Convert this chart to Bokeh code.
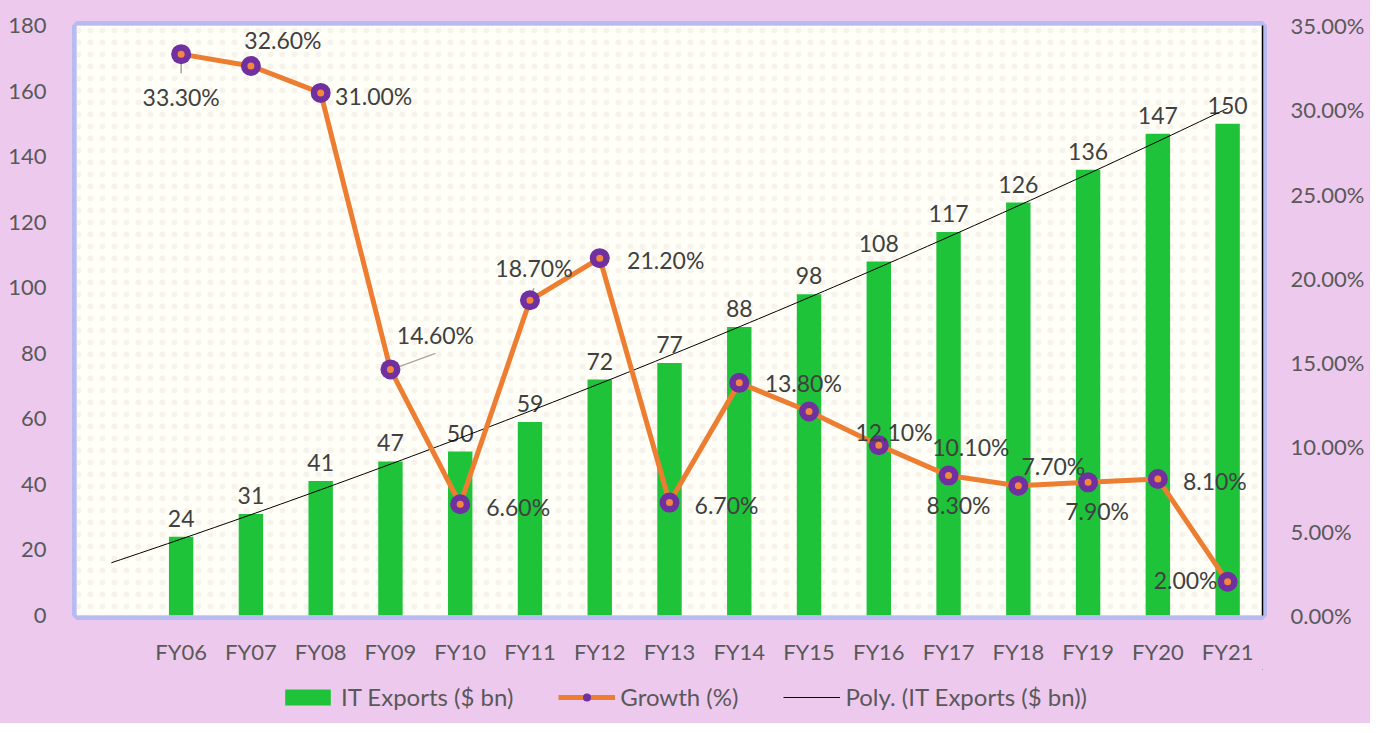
import numpy as np
from bokeh.plotting import figure
from bokeh.layouts import column
from bokeh.models import (ColumnDataSource, Range1d, LinearAxis, FixedTicker,
                          PrintfTickFormatter, Legend, LegendItem, BoxAnnotation)
from bokeh.core.properties import value
from bokeh.embed import file_html
from bokeh.resources import INLINE

# ---------------- data ----------------
years = ["FY06", "FY07", "FY08", "FY09", "FY10", "FY11", "FY12", "FY13",
         "FY14", "FY15", "FY16", "FY17", "FY18", "FY19", "FY20", "FY21"]
exports = [24, 31, 41, 47, 50, 59, 72, 77, 88, 98, 108, 117, 126, 136, 147, 150]
growth = [33.3, 32.6, 31.0, 14.6, 6.6, 18.7, 21.2, 6.7, 13.8, 12.1, 10.1, 8.3,
          7.7, 7.9, 8.1, 2.0]
left_ticks = [0, 20, 40, 60, 80, 100, 120, 140, 160, 180]
right_ticks = [0, 5, 10, 15, 20, 25, 30, 35]
series_names = ["IT Exports ($ bn)", "Growth (%)", "Poly. (IT Exports ($ bn))"]

# ---------------- label placement (style, pixels) ----------------
g_dx = [0, 32, 53, 45, 58, 4, 66, 57, 64, 85, 92, 10, 35, 9, 57, -42]
g_dy = [43, -26, 3, -34, 3, -32, 2, 2, 0, 20, 2, 29, -20, 29, 2, -2]

FONT = "Lato"
PINK = "#EEC9EE"
GREEN = "#1FC33A"
ORANGE = "#ED7D31"
PURPLE = "#7030A0"
DOT = "#F4873C"

x = list(range(1, len(years) + 1))

FW, FH = 1186, 590
p = figure(frame_width=FW, frame_height=FH, x_range=Range1d(-0.5, 16.5),
           y_range=Range1d(0, 180),
           output_backend="svg", toolbar_location=None,
           min_border_left=76, min_border_right=108, min_border_top=25,
           min_border_bottom=54,
           background_fill_color="#FFFFF8", border_fill_color=PINK,
           outline_line_color="#AAB6F2", outline_line_width=9, outline_line_alpha=0.8)
p.extra_y_ranges = {"g": Range1d(0, 35)}
p.xgrid.visible = False
p.ygrid.visible = False

# faint dotted plot-area texture
p.add_layout(BoxAnnotation(left=-0.5, right=16.5, bottom=0, top=180, level="underlay",
                           fill_color="#FFFFF8", fill_alpha=1, line_color=None,
                           hatch_pattern="dot", hatch_color="#ECE8DE", hatch_scale=12,
                           hatch_weight=1, hatch_alpha=0.5))

# axes
xa = p.xaxis[0]
xa.ticker = FixedTicker(ticks=x)
xa.major_label_overrides = {i: y for i, y in zip(x, years)}
ya = p.yaxis[0]
ya.ticker = FixedTicker(ticks=left_ticks)
for ax in (xa, ya):
    ax.axis_line_color = None
    ax.major_tick_line_color = None
    ax.minor_tick_line_color = None
    ax.major_label_text_font = FONT
    ax.major_label_text_font_size = "22px"
    ax.major_label_text_color = "#595959"
xa.major_label_standoff = 16
ya.major_label_standoff = 24

ra = LinearAxis(y_range_name="g", ticker=FixedTicker(ticks=right_ticks),
                formatter=PrintfTickFormatter(format="%.2f%%"))
ra.axis_line_color = "black"
ra.axis_line_width = 1.5
ra.major_tick_line_color = None
ra.minor_tick_line_color = None
ra.major_label_text_font = FONT
ra.major_label_text_font_size = "22px"
ra.major_label_text_color = "#595959"
ra.major_label_standoff = 22
p.add_layout(ra, "right")

# bars
src = ColumnDataSource(dict(x=x, v=exports, lbl=[str(v) for v in exports],
                            g=growth, glbl=["%.2f%%" % g for g in growth],
                            dx=g_dx, dy=g_dy))
p.vbar(x="x", top="v", width=0.35, source=src, fill_color=GREEN, line_color=None)
p.text(x="x", y="v", text="lbl", source=src, y_offset=-10, text_align="center",
       text_baseline="bottom", text_font=value(FONT), text_font_size="23px",
       text_color="#404040")

# polynomial trend (order 2) computed from the exports data, with one period backward forecast
coef = np.polyfit(x, exports, 2)
xt = np.linspace(0, len(years), 120)
p.line(xt, np.polyval(coef, xt), line_color="black", line_width=1)

# leader lines for a few growth labels (derived from data point + pixel offsets)
ppx = FW / 17.0
ppy = FH / 35.0
lead = {0: ((0, 4), (0, 19)), 3: ((4, -1), (45, -16)), 5: ((1, -5), (4, -12))}
lx0, ly0, lx1, ly1 = [], [], [], []
for i, ((a, b), (c, d)) in lead.items():
    lx0.append(x[i] + a / ppx); ly0.append(growth[i] - b / ppy)
    lx1.append(x[i] + c / ppx); ly1.append(growth[i] - d / ppy)
p.segment(lx0, ly0, lx1, ly1, y_range_name="g", line_color="#A6A6A6", line_width=1.5)

# growth line
p.line(x="x", y="g", source=src, y_range_name="g", line_color=ORANGE, line_width=5)
p.scatter(x="x", y="g", source=src, y_range_name="g", size=20,
          fill_color=PURPLE, line_color=None)
p.scatter(x="x", y="g", source=src, y_range_name="g", size=7,
          fill_color=DOT, line_color=None)
p.text(x="x", y="g", text="glbl", source=src, y_range_name="g", x_offset="dx",
       y_offset="dy", text_align="center", text_baseline="middle",
       text_font=value(FONT), text_font_size="23px", text_color="#404040")

# ---------------- legend strip (same series, drawn off-view, used as legend keys) ----------------
lf = figure(width=1370, height=54, x_range=Range1d(-1000, -999), y_range=Range1d(-1000, -999),
            output_backend="svg", toolbar_location=None, x_axis_location=None,
            y_axis_location=None, min_border=0, border_fill_color=None,
            background_fill_color=None, outline_line_color=None)
lf.xgrid.visible = False
lf.ygrid.visible = False
lbars = lf.vbar(x="x", top="v", width=0.35, source=src, fill_color=GREEN, line_color=None)
lline = lf.line(x="x", y="g", source=src, line_color=ORANGE, line_width=5)
lout = lf.scatter(x="x", y="g", source=src, size=20, fill_color=PURPLE, line_color=None)
ltr = lf.line(xt, np.polyval(coef, xt), line_color="black", line_width=1)

legend = Legend(items=[LegendItem(label=series_names[0], renderers=[lbars]),
                       LegendItem(label=series_names[1], renderers=[lline, lout]),
                       LegendItem(label=series_names[2], renderers=[ltr])],
                orientation="horizontal", location=(203, 12),
                background_fill_alpha=0, border_line_color=None,
                label_text_font=FONT, label_text_font_size="24px",
                label_text_color="#595959", glyph_width=57, glyph_height=20,
                spacing=45, label_standoff=5, margin=0, padding=4)
lf.add_layout(legend)

layout = column(p, lf, spacing=0, styles={"background-color": PINK})
open("out.html", "w").write(file_html(layout, INLINE))
